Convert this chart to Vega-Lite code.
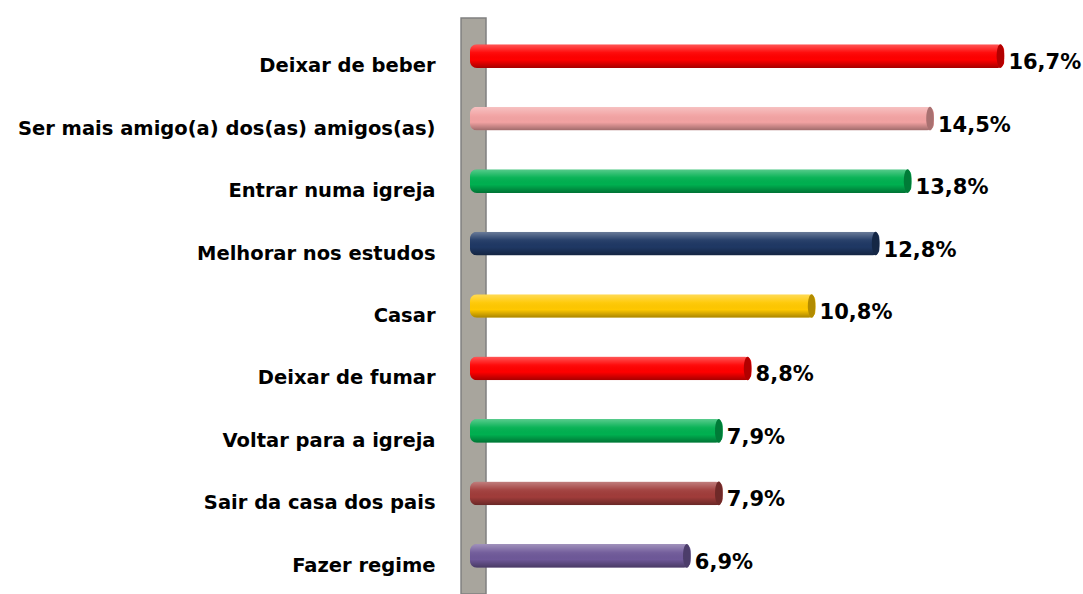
{
  "$schema": "https://vega.github.io/schema/vega-lite/v6.json",
  "autosize": "none",
  "width": 560,
  "height": 576,
  "padding": {"left": 470, "top": 18, "right": 53, "bottom": 0},
  "background": "white",
  "config": {"view": {"stroke": null}, "font": "DejaVu Sans"},
  "datasets": {
    "bars": [
      {"item": "Deixar de beber", "pct": 16.7, "label": "16,7%"},
      {"item": "Ser mais amigo(a) dos(as) amigos(as)", "pct": 14.5, "label": "14,5%"},
      {"item": "Entrar numa igreja", "pct": 13.8, "label": "13,8%"},
      {"item": "Melhorar nos estudos", "pct": 12.8, "label": "12,8%"},
      {"item": "Casar", "pct": 10.8, "label": "10,8%"},
      {"item": "Deixar de fumar", "pct": 8.8, "label": "8,8%"},
      {"item": "Voltar para a igreja", "pct": 7.9, "label": "7,9%"},
      {"item": "Sair da casa dos pais", "pct": 7.9, "label": "7,9%"},
      {"item": "Fazer regime", "pct": 6.9, "label": "6,9%"}
    ],
    "wall": [{"x0": -0.28, "x1": 0.5}]
  },
  "layer": [
    {
      "data": {"name": "wall"},
      "mark": {"type": "rect", "fill": "#A8A59D", "stroke": "#808080", "strokeWidth": 1.5},
      "encoding": {
        "x": {"field": "x0", "type": "quantitative", "scale": {"domain": [0, 17.5], "nice": false, "zero": true}, "axis": null},
        "x2": {"field": "x1"}
      }
    },
    {
      "data": {"name": "bars"},
      "encoding": {
        "y": {
          "field": "item", "type": "nominal", "sort": null,
          "scale": {"paddingInner": 0.62, "paddingOuter": 0.42},
          "axis": {"title": null, "domain": false, "ticks": false, "labelPadding": 35, "labelOffset": 10, "labelFontSize": 19.5, "labelFontWeight": "bold", "labelColor": "#000000", "labelFont": "DejaVu Sans", "labelLimit": 500}
        }
      },
      "layer": [
        {
          "mark": {"type": "bar", "cornerRadius": 7},
          "encoding": {
            "x": {"field": "pct", "type": "quantitative", "scale": {"domain": [0, 17.5], "nice": false}, "axis": null},
            "color": {
              "field": "item", "type": "nominal", "legend": null, "sort": null,
              "scale": {
                "domain": ["Deixar de beber", "Ser mais amigo(a) dos(as) amigos(as)", "Entrar numa igreja", "Melhorar nos estudos", "Casar", "Deixar de fumar", "Voltar para a igreja", "Sair da casa dos pais", "Fazer regime"],
                "range": ["#FF0000", "#F2A2A2", "#00B050", "#1F3864", "#FFC800", "#FF0000", "#00B050", "#A03C3A", "#6E5898"]
              }
            }
          }
        },
        {
          "mark": {
            "type": "bar", "cornerRadius": 7,
            "fill": {"gradient": "linear", "x1": 0, "y1": 0, "x2": 0, "y2": 1,
              "stops": [
                {"offset": 0, "color": "rgba(255,255,255,0.35)"},
                {"offset": 0.35, "color": "rgba(255,255,255,0.05)"},
                {"offset": 0.65, "color": "rgba(0,0,0,0.0)"},
                {"offset": 1, "color": "rgba(0,0,0,0.35)"}
              ]}
          },
          "encoding": {
            "x": {"field": "pct", "type": "quantitative"}
          }
        },
        {
          "mark": {"type": "point", "filled": true, "size": 560, "opacity": 1,
            "shape": "M0,-1 A0.32,1 0 1,1 0,1 A0.32,1 0 1,1 0,-1 Z"},
          "encoding": {
            "x": {"field": "pct", "type": "quantitative"},
            "xOffset": {"value": -4},
            "color": {"field": "item", "type": "nominal", "legend": null}
          }
        },
        {
          "mark": {"type": "point", "filled": true, "size": 560, "opacity": 0.3, "color": "black",
            "shape": "M0,-1 A0.32,1 0 1,1 0,1 A0.32,1 0 1,1 0,-1 Z"},
          "encoding": {
            "x": {"field": "pct", "type": "quantitative"},
            "xOffset": {"value": -4}
          }
        },
        {
          "mark": {"type": "text", "align": "left", "baseline": "middle", "dx": 4, "dy": 7, "fontSize": 21, "fontWeight": "bold", "color": "#000000", "font": "DejaVu Sans"},
          "encoding": {
            "x": {"field": "pct", "type": "quantitative"},
            "text": {"field": "label"}
          }
        }
      ]
    }
  ]
}
